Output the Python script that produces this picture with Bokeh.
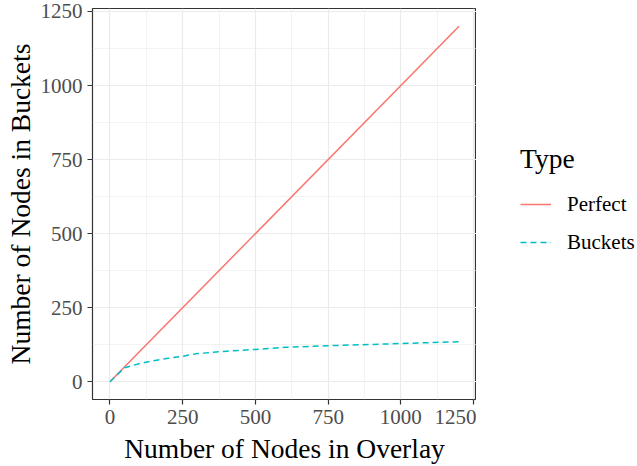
from bokeh.plotting import figure
from bokeh.layouts import row
from bokeh.models import Range1d, FixedTicker, Legend, LegendItem, ColumnDataSource
from bokeh.embed import file_html
from bokeh.resources import INLINE

# Data
overlay_nodes = [0, 1200]
perfect_nodes = [0, 1200]
bucket_x = [0, 50, 100, 150, 200, 250, 300, 400, 500, 600, 700, 800, 900, 1000, 1100, 1200]
bucket_y = [0, 47, 61, 71, 79, 86, 95, 103, 109, 116, 120, 123, 126, 129, 132, 135]
type_labels = ["Perfect", "Buckets"]
major_ticks = [0, 250, 500, 750, 1000, 1250]
minor_ticks = [125, 375, 625, 875, 1125]
colors = ["#F8766D", "#00BFC4"]

FONT = "Liberation Serif"

p = figure(width=476, height=466, output_backend="svg", toolbar_location=None,
           x_range=Range1d(-60, 1260), y_range=Range1d(-60, 1260),
           min_border_left=92, min_border_right=0, min_border_top=8, min_border_bottom=66)
p.background_fill_color = "white"
p.border_fill_color = "white"
p.outline_line_color = "#333333"
p.outline_line_width = 1.2

src_p = ColumnDataSource(dict(x=overlay_nodes, y=perfect_nodes))
src_b = ColumnDataSource(dict(x=bucket_x, y=bucket_y))
p.line("x", "y", source=src_p, line_color=colors[0], line_width=1.5)
p.line("x", "y", source=src_b, line_color=colors[1], line_width=1.5, line_dash="6 4")

for ax in (p.xaxis[0], p.yaxis[0]):
    ax.ticker = FixedTicker(ticks=major_ticks, minor_ticks=minor_ticks)
    ax.axis_line_color = None
    ax.major_tick_line_color = "#333333"
    ax.major_tick_line_width = 1.2
    ax.major_tick_out = 5
    ax.major_tick_in = 0
    ax.minor_tick_line_color = None
    ax.major_label_text_font = FONT
    ax.major_label_text_font_size = "21px"
    ax.major_label_text_color = "#4D4D4D"
    ax.major_label_standoff = 5
    ax.axis_label_text_font = FONT
    ax.axis_label_text_font_size = "27.5px"
    ax.axis_label_text_font_style = "normal"
    ax.axis_label_text_color = "black"

p.xaxis.axis_label = "Number of Nodes in Overlay"
p.yaxis.axis_label = "Number of Nodes in Buckets"
p.xaxis.axis_label_standoff = 6
p.yaxis.axis_label_standoff = 2

for g in (p.xgrid[0], p.ygrid[0]):
    g.grid_line_color = "#EBEBEB"
    g.grid_line_width = 1.2
    g.minor_grid_line_color = "#EBEBEB"
    g.minor_grid_line_width = 0.6

# Legend panel (same data, ranges chosen so the lines stay out of view)
lg = figure(width=161, height=466, output_backend="svg", toolbar_location=None,
            x_range=Range1d(5000, 6000), y_range=Range1d(5000, 6000),
            min_border=0, x_axis_location=None, y_axis_location=None)
lg.outline_line_color = None
lg.grid.visible = False
lg.background_fill_color = "white"
lg.border_fill_color = "white"
d1 = lg.line("x", "y", source=src_p, line_color=colors[0], line_width=1.5)
d2 = lg.line("x", "y", source=src_b, line_color=colors[1], line_width=1.5, line_dash="6 4")

legend = Legend(items=[LegendItem(label=type_labels[0], renderers=[d1]),
                       LegendItem(label=type_labels[1], renderers=[d2])],
                location=(44, 138), orientation="vertical")
legend.title = "Type"
legend.title_text_font = FONT
legend.title_text_font_size = "27.5px"
legend.title_text_font_style = "normal"
legend.title_text_color = "black"
legend.title_standoff = 10
legend.label_text_font = FONT
legend.label_text_font_size = "21px"
legend.label_text_color = "black"
legend.glyph_width = 31
legend.glyph_height = 38
legend.label_height = 38
legend.label_standoff = 16
legend.spacing = 0
legend.padding = 0
legend.margin = 0
legend.border_line_color = None
legend.background_fill_alpha = 0
lg.add_layout(legend, "center")

open("out.html", "w").write(file_html(row(p, lg), INLINE))
